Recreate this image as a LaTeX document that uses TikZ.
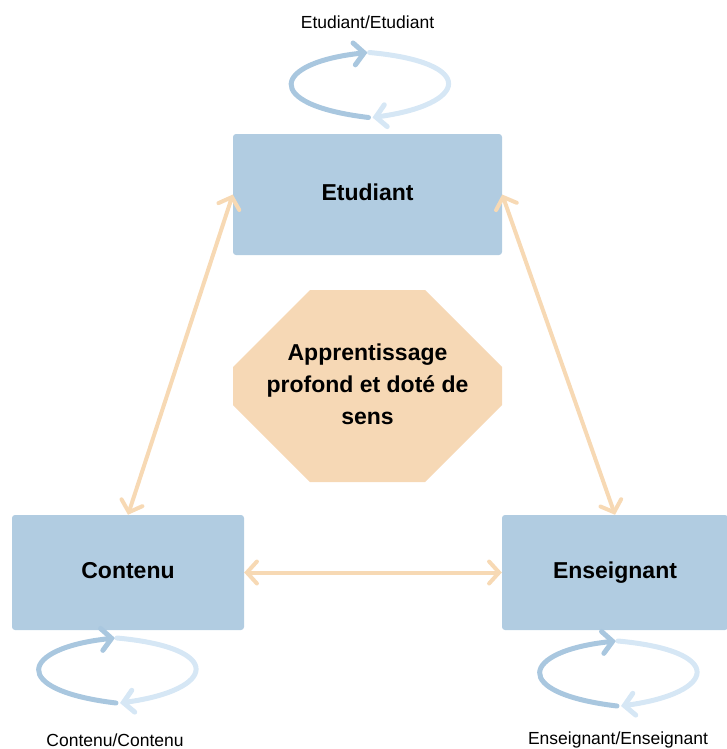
\documentclass[tikz,border=0pt]{standalone}
\usepackage{fontspec}
\setmainfont{Liberation Sans}
\usetikzlibrary{arrows.meta}
\definecolor{boxblue}{HTML}{B1CCE1}
\definecolor{peach}{HTML}{F6D8B5}
\definecolor{peachline}{HTML}{F7D9B4}
\definecolor{loopdark}{HTML}{A9C7DF}
\definecolor{looplight}{HTML}{D6E7F5}
\tikzset{
  box/.style={fill=boxblue, rounded corners=3pt, inner sep=0pt, text height=17pt, text depth=5pt, font=\fontsize{23}{28}\selectfont\bfseries},
  biarrow/.style={draw=peachline, line width=4pt, line cap=round, {Straight Barb[length=10pt,width=22pt,line cap=round]}-{Straight Barb[length=10pt,width=22pt,line cap=round]}},
  looparc/.style={line width=5pt, line cap=round, -{Straight Barb[length=10pt,width=22pt,line cap=round]}},
  looplabel/.style={font=\fontsize{17.5}{21}\selectfont},
  pics/selfloop/.style={code={
    \draw[looparc, draw=loopdark] (0,33) .. controls (-108,20) and (-96,-22) .. (-1,-32);
    \draw[looparc, draw=looplight] (1,-32) .. controls (110,-22) and (100,20) .. (4,33);
  }}
}
\begin{document}
\begin{tikzpicture}[x=1pt, y=-1pt]
\useasboundingbox (0,0) rectangle (726,749);
% boxes
\node[box, minimum width=269pt, minimum height=121pt] (etu) at (367.5,194.5) {Etudiant};
\node[box, minimum width=232pt, minimum height=115pt] (con) at (128,572.5) {Contenu};
\node[box, minimum width=226pt, minimum height=115pt] (ens) at (615,572.5) {Enseignant};
% octagon
\fill[peach] (310,290) -- (425,290) -- (502,367) -- (502,405) -- (425,482) -- (310,482) -- (233,405) -- (233,367) -- cycle;
\node[align=center, font=\fontsize{23}{32}\selectfont\bfseries] (oct) at (367.5,384) {Apprentissage\\profond et doté de\\sens};
% connectors
\draw[biarrow] (etu.west) -- (con.north);
\draw[biarrow] (etu.east) -- (ens.north);
\draw[biarrow] (con.east) -- (ens.west);
% loops
\pic at (368.5,84.5) {selfloop};
\pic at (116,670) {selfloop};
\pic at (617,673) {selfloop};
% labels
\node[looplabel] (letu) at (367.5,22) {Etudiant/Etudiant};
\node[looplabel] (lcon) at (115,740) {Contenu/Contenu};
\node[looplabel] (lens) at (618,740) {Enseignant/Enseignant};
\end{tikzpicture}
\end{document}
